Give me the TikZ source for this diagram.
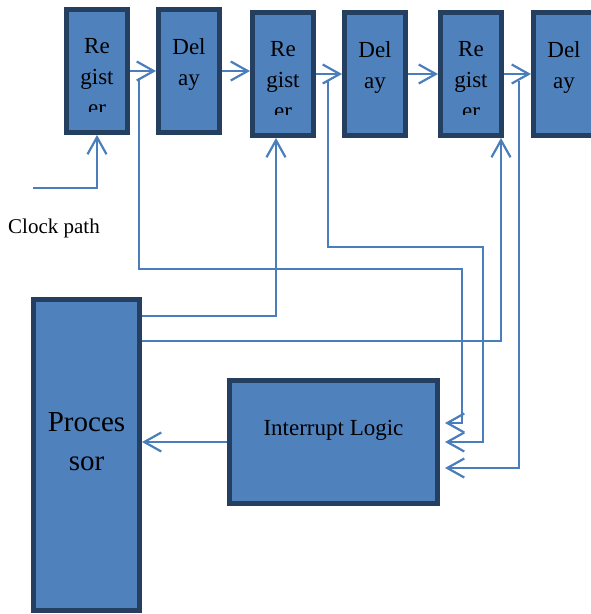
\documentclass[tikz,border=0pt]{standalone}
\usepackage{fontspec}
\setmainfont{Liberation Serif}
\usetikzlibrary{positioning}
\usetikzlibrary{arrows.meta}
\definecolor{boxfill}{HTML}{4F81BD}
\definecolor{boxline}{HTML}{243F60}
\definecolor{wireblue}{HTML}{4A7EBB}

\begin{document}
\begin{tikzpicture}
		[x=1pt, y=-1pt,
		 blk/.style={draw=boxline, line width=5pt, fill=boxfill, minimum width=61pt, minimum height=123pt, inner sep=0pt},
		 lbl/.style={align=center, inner sep=0pt, font=\fontsize{23}{31}\selectfont},
		 wire/.style={draw=wireblue, line width=2.2pt},
		 >={Straight Barb[length=17pt, width=19pt]}]
		\useasboundingbox (0,0) rectangle (591,614);
		\node[blk] (reg1) at (97,71) {};
		\node[blk, right=26pt of reg1] (del1) {};
		\node[blk, right=28pt of del1, yshift=-3pt] (reg2) {};
		\node[blk, right=26pt of reg2] (del2) {};
		\node[blk, right=30pt of del2] (reg3) {};
		\node[blk, right=27pt of reg3] (del3) {};
		\node[blk, minimum width=106pt, minimum height=311pt] (proc) at (86.5,455) {};
		\node[blk, minimum width=208pt] (intr) at (333.5,442) {};

		% text of the registers runs out of the box, so cut it off
		\foreach \r in {reg1, reg2, reg3} {
			\begin{scope}
				\clip ([yshift=24pt]\r.south west) rectangle (\r.north east);
				\node[lbl, below=31pt of \r.north] (\r-txt) {Re\\gist\\er};
			\end{scope}
		}
		\foreach \d in {del1, del2, del3}
			\node[lbl, below=31pt of \d.north] (\d-txt) {Del\\ay};
		\node[lbl, font=\fontsize{29}{39}\selectfont, below=115pt of proc.north] (proc-txt) {Proces\\sor};
		\node[lbl, below=42pt of intr.north] (intr-txt) {Interrupt Logic};
		\node[anchor=base west, inner sep=0pt, font=\fontsize{21}{25}\selectfont] (clklbl) at (8,233) {Clock path};

		\foreach \a/\b in {reg1/del1, del1/reg2, reg2/del2, del2/reg3, reg3/del3}
			\draw[wire, ->] (\a.east) -- (\a.east -| \b.west);

		\coordinate (clk) at (33,188);
		\draw[wire, ->] (clk) -| (reg1.south);
		\draw[wire, ->] ([yshift=-19pt]proc.north east) -| ([xshift=-7pt]reg2.south);
		\draw[wire, ->] ([yshift=-44pt]proc.north east) -| ([xshift=-3pt]reg3.south east);

		\coordinate (tap1) at ([xshift=9pt, yshift=-7pt]reg1.east);
		\coordinate (tap2) at ([xshift=12pt, yshift=-7pt]reg2.east);
		\coordinate (tap3) at ([xshift=15pt, yshift=-7pt]reg3.east);
		\draw[wire, ->] (tap1) |- (462,269) |- ([xshift=5pt, yshift=19pt]intr.east);
		\draw[wire, ->] (tap2) |- (483,247) |- ([xshift=5pt]intr.east);
		\draw[wire, ->] (tap3) |- ([xshift=5pt, yshift=-26pt]intr.east);

		\draw[wire, ->] (intr.west) -- (intr.west -| proc.east);
	\end{tikzpicture}
\end{document}
